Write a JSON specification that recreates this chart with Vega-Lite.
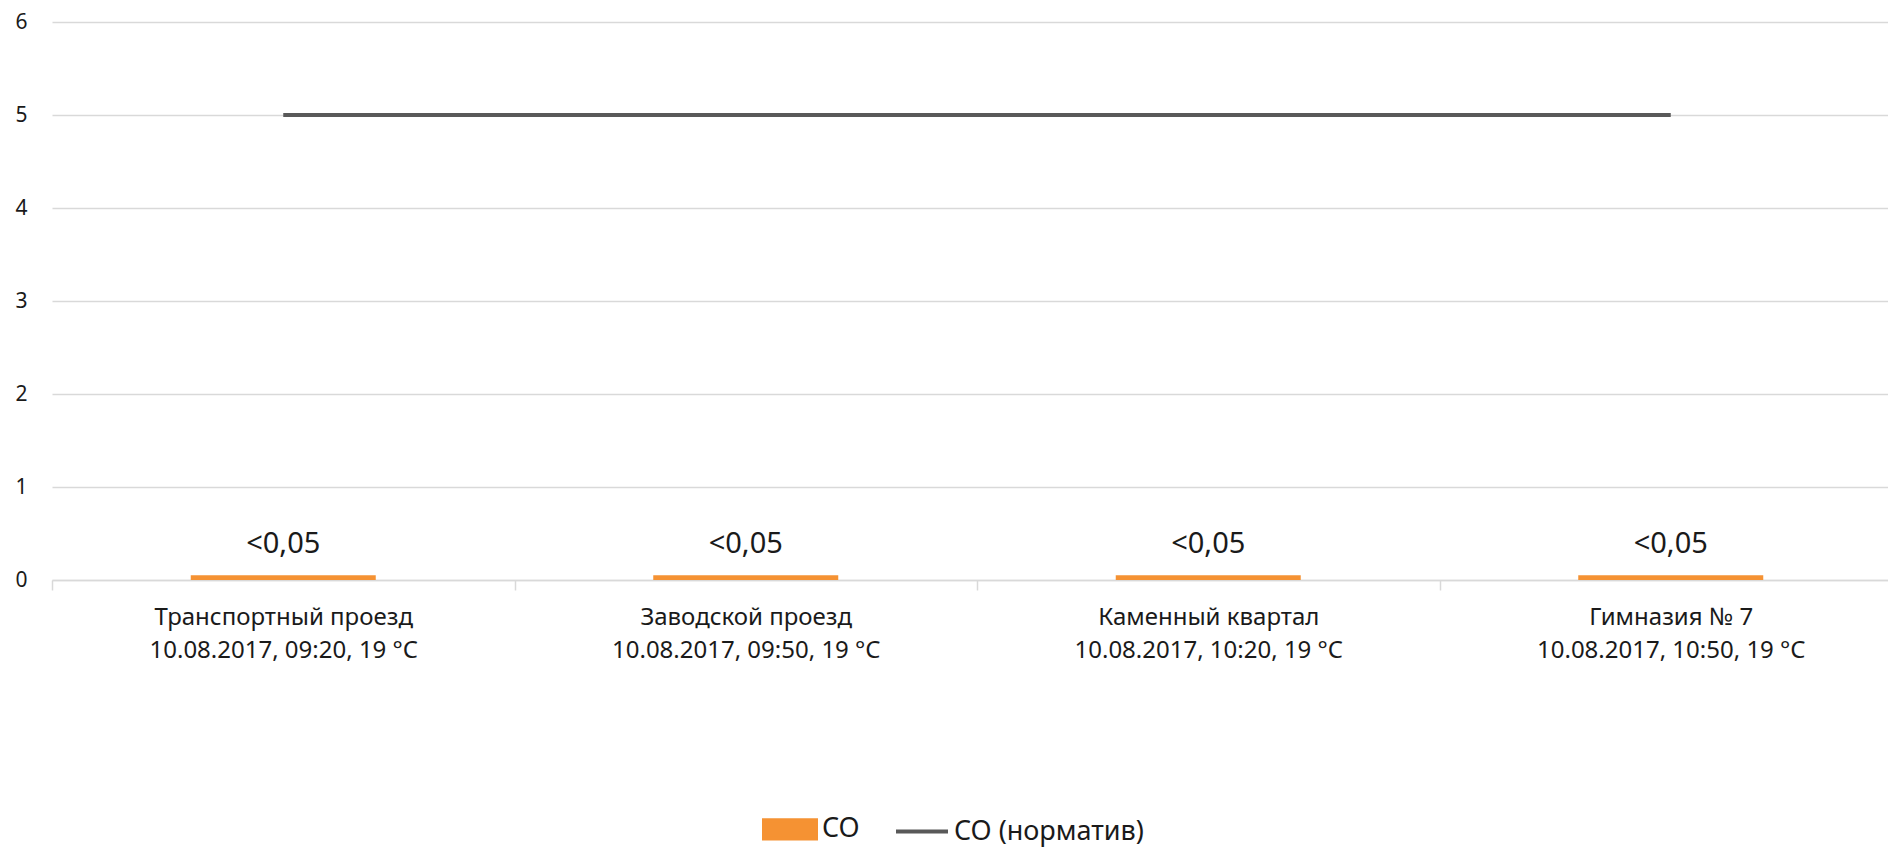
{
  "$schema": "https://vega.github.io/schema/vega-lite/v6.json",
  "width": 1836,
  "height": 558,
  "autosize": {"type": "none"},
  "padding": {"left": 52, "top": 22, "right": 0, "bottom": 267},
  "background": "white",
  "config": {
    "view": {"stroke": null},
    "font": "Noto Sans",
    "axis": {"labelFont": "Noto Sans", "labelColor": "#1a1a1a"},
    "legend": {"labelFont": "Noto Sans", "labelColor": "#1a1a1a"}
  },
  "data": {
    "values": [
      {"site": "Транспортный проезд|10.08.2017, 09:20, 19 °C", "value": 0.05, "label": "<0,05", "norm": 5},
      {"site": "Заводской проезд|10.08.2017, 09:50, 19 °C", "value": 0.05, "label": "<0,05", "norm": 5},
      {"site": "Каменный квартал|10.08.2017, 10:20, 19 °C", "value": 0.05, "label": "<0,05", "norm": 5},
      {"site": "Гимназия № 7|10.08.2017, 10:50, 19 °C", "value": 0.05, "label": "<0,05", "norm": 5}
    ]
  },
  "encoding": {
    "x": {
      "field": "site",
      "type": "nominal",
      "sort": null,
      "scale": {"paddingInner": 0, "paddingOuter": 0, "range": [0, 1850]},
      "axis": {
        "title": null,
        "labelAngle": 0,
        "labelExpr": "split(datum.label, '|')",
        "labelFontSize": 24,
        "labelLineHeight": 33,
        "labelPadding": 15,
        "labelLimit": 0,
        "labelOverlap": false,
        "tickBand": "extent",
        "tickSize": 10,
        "tickColor": "#d9d9d9",
        "tickWidth": 1.5,
        "domainColor": "#d9d9d9",
        "domainWidth": 1.5,
        "grid": false
      }
    }
  },
  "layer": [
    {
      "mark": {"type": "bar", "width": {"band": 0.4}},
      "encoding": {
        "y": {
          "field": "value",
          "type": "quantitative",
          "scale": {"domain": [0, 6], "nice": false},
          "axis": {
            "title": null,
            "values": [0, 1, 2, 3, 4, 5, 6],
            "format": "d",
            "grid": true,
            "gridColor": "#d9d9d9",
            "gridWidth": 1.5,
            "domain": false,
            "ticks": false,
            "labelPadding": 25,
            "labelFontSize": 21
          }
        },
        "color": {
          "datum": "CO",
          "scale": {"domain": ["CO", "CO (норматив)"], "range": ["#F59233", "#595959"]},
          "legend": {
            "title": null,
            "orient": "none",
            "legendX": 710,
            "legendY": 779,
            "direction": "horizontal",
            "symbolSize": 2704,
            "labelFontSize": 27,
            "labelOffset": 4,
            "labelLimit": 0,
            "columnPadding": 28,
            "encode": {
              "symbols": {
                "update": {
                  "shape": {"signal": "datum.value === 'CO' ? 'M-1,-0.35H1V0.35H-1Z' : 'stroke'"},
                  "fill": {"signal": "datum.value === 'CO' ? '#F59233' : 'transparent'"},
                  "stroke": {"signal": "datum.value === 'CO' ? 'transparent' : '#595959'"},
                  "strokeWidth": {"value": 4},
                  "opacity": {"value": 1}
                }
              }
            }
          }
        }
      }
    },
    {
      "mark": {"type": "line", "strokeWidth": 4, "strokeCap": "butt"},
      "encoding": {
        "y": {"field": "norm", "type": "quantitative"},
        "color": {"datum": "CO (норматив)"}
      }
    },
    {
      "mark": {"type": "text", "fontSize": 29, "baseline": "alphabetic", "dy": -22, "color": "#1a1a1a"},
      "encoding": {
        "y": {"field": "value", "type": "quantitative"},
        "text": {"field": "label"}
      }
    }
  ]
}
